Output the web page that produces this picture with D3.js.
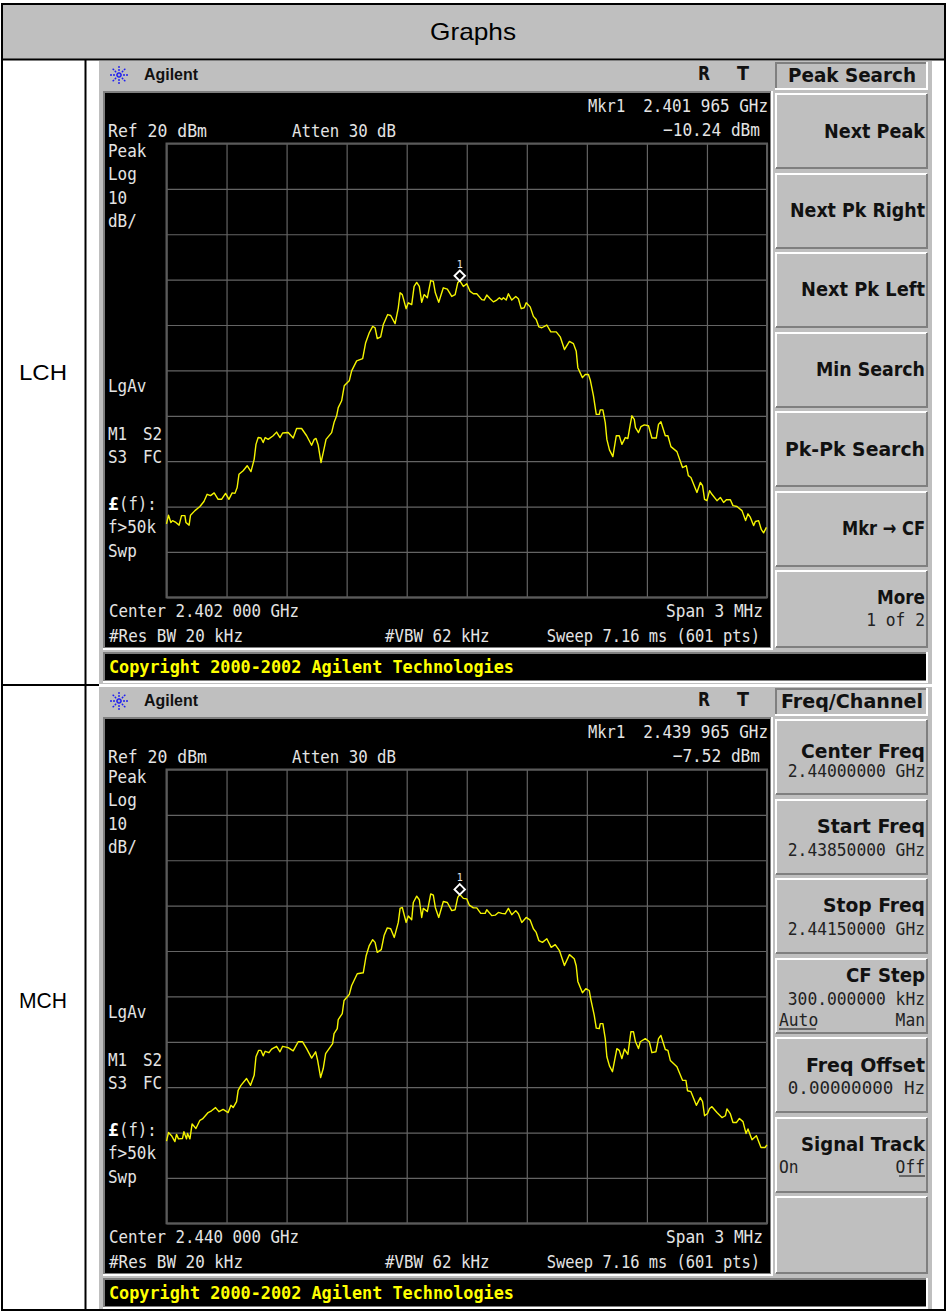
<!DOCTYPE html>
<html><head><meta charset="utf-8">
<script src="https://cdn.jsdelivr.net/npm/d3@7"></script>
<style>html,body{margin:0;padding:0;background:#fff}svg{display:block}</style></head>
<body><div id="c"></div>
<script>
const lchFreq=[-1500,-1490,-1478,-1470,-1453,-1437,-1425,-1408,-1403,-1387,-1380,-1358,-1333,-1313,-1297,-1280,-1262,-1242,-1225,-1205,-1188,-1172,-1158,-1147,-1138,-1117,-1097,-1078,-1062,-1053,-1042,-1028,-1017,-1007,-992,-967,-950,-933,-920,-892,-867,-850,-825,-800,-775,-762,-753,-742,-728,-717,-703,-675,-663,-650,-642,-625,-612,-587,-575,-550,-520,-505,-487,-470,-458,-447,-430,-417,-395,-380,-358,-342,-333,-322,-303,-292,-275,-263,-250,-237,-225,-213,-197,-180,-167,-157,-140,-117,-97,-75,-58,-45,-35,-17,0,17,33,50,75,87,100,117,133,150,163,175,183,197,208,225,245,258,272,287,297,317,333,347,360,375,400,420,447,467,488,513,533,547,555,578,592,608,617,633,647,662,667,680,692,700,713,730,747,762,775,792,805,817,825,837,843,858,870,887,908,925,947,958,970,992,1005,1020,1050,1078,1097,1107,1120,1150,1167,1178,1188,1200,1213,1225,1250,1267,1283,1297,1317,1330,1350,1375,1393,1405,1417,1433,1442,1458,1472,1483,1497];
const lchLevel=[-63.8,-61.9,-63.5,-63.1,-63.5,-64.1,-62,-62,-63.5,-64.1,-61.9,-60.9,-60,-58.9,-57.3,-57.6,-57,-58.4,-58.4,-57.1,-58.4,-57,-57.1,-55.8,-52.9,-52.1,-51,-52.3,-49.6,-46.3,-44.8,-44.9,-45.9,-44.8,-45.2,-44.4,-43.6,-44.8,-43.8,-43.7,-44.9,-42.8,-42.8,-44.4,-46.5,-45.2,-45,-46.5,-50.3,-48.1,-45.2,-43.7,-41.5,-40,-38.2,-36.7,-33.4,-32.3,-30.1,-27.9,-27.4,-23.9,-21.7,-20.3,-20.6,-23,-22.6,-19.9,-17.7,-17.9,-19.7,-16.2,-12.9,-13.3,-16.4,-15.1,-15.5,-11.5,-10.6,-11.5,-15,-13.3,-14,-10.2,-10.4,-12.9,-15,-11.8,-12.1,-13.7,-13.3,-10.7,-10.24,-11.5,-10.9,-12.6,-13.1,-13.1,-14.4,-14.5,-13.4,-14.2,-14.9,-14.5,-14,-14.4,-14,-14.5,-13.1,-14.5,-13.7,-14.2,-16.4,-16.2,-15.1,-16,-18.1,-18.8,-20.4,-20.6,-20,-21.5,-21.5,-22.6,-25.4,-23.6,-24.1,-25.8,-29.4,-31.6,-30.9,-30.9,-32.1,-35.6,-39.7,-39.7,-38.7,-38.7,-41.5,-45.2,-47.5,-49,-44.4,-44.4,-46.3,-44.8,-45,-41.9,-40,-40.8,-42.6,-43.7,-42.4,-42,-42.2,-44.9,-44.9,-41.9,-41.3,-44.4,-44.4,-46.8,-47.9,-51.4,-51,-53.2,-53.6,-56.9,-54.7,-55.4,-58.4,-58.7,-56.5,-57.3,-58.7,-58,-59.1,-58.5,-58.5,-59.8,-60,-60.9,-63.1,-61.6,-62.4,-64.2,-63.3,-63.1,-65.1,-65.8,-64.6];
const mchFreq=[-1500,-1490,-1475,-1458,-1450,-1440,-1420,-1413,-1400,-1395,-1383,-1372,-1353,-1333,-1320,-1292,-1275,-1255,-1238,-1217,-1192,-1178,-1167,-1150,-1142,-1128,-1100,-1080,-1062,-1053,-1040,-1028,-1017,-1007,-988,-975,-950,-933,-920,-892,-867,-842,-820,-800,-775,-755,-745,-730,-717,-705,-670,-663,-647,-642,-622,-613,-587,-575,-547,-517,-503,-487,-470,-458,-447,-427,-413,-397,-380,-362,-342,-333,-322,-303,-292,-275,-267,-250,-237,-225,-217,-197,-180,-167,-157,-140,-117,-97,-75,-58,-45,-35,-17,0,13,33,50,70,92,100,125,142,158,175,192,208,225,245,258,275,297,317,333,347,360,378,400,422,442,463,488,513,537,547,555,578,595,612,620,637,647,662,667,680,692,700,713,728,750,762,775,788,805,820,833,843,858,867,892,912,925,945,958,970,992,1005,1017,1050,1078,1095,1103,1120,1147,1167,1178,1188,1203,1213,1225,1250,1275,1292,1300,1317,1330,1347,1362,1380,1395,1405,1425,1447,1470,1490,1500];
const mchLevel=[-61.9,-60,-60.7,-62,-60.4,-61.4,-61.3,-59.8,-61.4,-60.2,-61.4,-58.1,-59.1,-57.3,-57,-55.6,-55.2,-54.5,-55.4,-54.9,-55.6,-54,-54.5,-53.2,-50.7,-49.6,-48.1,-49.6,-47.4,-43.3,-41.9,-41.9,-43.1,-42.1,-42.4,-41.6,-41,-42.2,-41,-41.3,-42,-40,-40,-41.5,-43.6,-42.2,-44.1,-47.9,-45.9,-42.6,-40.4,-38.2,-37.1,-35.1,-33.8,-30.9,-29.6,-27.6,-25,-24.8,-21.1,-18.8,-17.5,-18.1,-20.3,-19.7,-16.6,-14.9,-15.1,-17,-13.7,-10.6,-10.4,-13.7,-12.3,-13.1,-9.3,-7.9,-8.7,-12.6,-10.6,-11.3,-7.4,-7.7,-10.4,-12.6,-9.1,-9.3,-11.1,-10.9,-8.2,-7.52,-8.4,-8.5,-9.9,-10.5,-10.5,-11.7,-11.7,-10.9,-12.2,-12.1,-11.5,-11.7,-11.8,-10.6,-12,-11.1,-11.8,-13.7,-12.6,-13.2,-15.1,-15.9,-17.7,-18.1,-17.3,-19.2,-18.6,-19.9,-23.2,-20.8,-21.7,-23.3,-26.7,-29.2,-28.3,-28.7,-30.7,-34.2,-37,-37.1,-36,-36,-39.3,-43.3,-45.3,-46.6,-41.5,-41.9,-43.7,-41.6,-42.8,-37.8,-37.8,-40,-41.5,-40,-39.3,-40,-42.4,-42.2,-39.3,-38.6,-41.7,-41.9,-44.1,-45.5,-48.5,-48.5,-50.8,-51,-54,-52.3,-53.2,-56.3,-55.8,-54.7,-54.3,-55.6,-56.7,-56.3,-54.8,-55.9,-57.8,-57.8,-56.9,-57.6,-60.2,-59.2,-61.6,-60.7,-63.3,-63.3,-62.7];
const freqTicks=[-1500,-1200,-900,-600,-300,0,300,600,900,1200,1500];
const levelTicks=[20,10,0,-10,-20,-30,-40,-50,-60,-70,-80];
const rowNames=["LCH","MCH"];
const markerFreq=[-35,-35];
const markerLevel=[-10.24,-7.52];
const markerFreqText=["2.401 965 GHz","2.439 965 GHz"];
const markerLevelText=["-10.24 dBm","-7.52 dBm"];
const centerText=["Center 2.402 000 GHz","Center 2.440 000 GHz"];
const menuTitles=["Peak Search","Freq/Channel"];
const menuLcH=["Next Peak","Next Pk Right","Next Pk Left","Min Search","Pk-Pk Search","Mkr \u2192 CF","More"];
const menuMcH=["Center Freq","Start Freq","Stop Freq","CF Step","Freq Offset","Signal Track",""];

const W=946,H=1311;
const svg=d3.select("#c").append("svg").attr("width",W).attr("height",H).attr("viewBox",[0,0,W,H]);
const SANS="'Liberation Sans',Arial,sans-serif", MONO="'DejaVu Sans Mono',monospace", BOLD="'DejaVu Sans',sans-serif";
const PANEL="#bfbfbf";
const titleW=[870,0];

svg.append("rect").attr("x",2).attr("y",4).attr("width",943).attr("height",55).attr("fill",PANEL);
svg.append("text").attr("x",473).attr("y",40).attr("text-anchor","middle").attr("font-family",SANS).attr("font-size",24).attr("textLength",86).attr("lengthAdjust","spacingAndGlyphs").text("Graphs");

function thin(g,x,y,t,o={}){
  return g.append("text").attr("x",x).attr("y",y).attr("font-family",MONO).attr("font-size",o.size||18)
   .attr("fill",o.fill||"#e4e4e4").attr("text-anchor",o.anchor||"start")
   .attr("textLength",t.length*(o.cw||9.6)).attr("lengthAdjust","spacingAndGlyphs").text(t);
}
function key(g,y0,y1,title,titleY,tw,subs){
  const x0=775,x1=928;
  g.append("rect").attr("x",x0).attr("y",y0).attr("width",x1-x0).attr("height",y1-y0).attr("fill",PANEL);
  g.append("path").attr("d",`M${x0+1},${y1-1}V${y0+1}H${x1-1}`).attr("fill","none").attr("stroke","#fff").attr("stroke-width",2);
  g.append("path").attr("d",`M${x0+1},${y1-1}H${x1-1}V${y0+1}`).attr("fill","none").attr("stroke","#7f7f7f").attr("stroke-width",2);
  if(title) g.append("text").attr("x",925).attr("y",titleY).attr("text-anchor","end").attr("font-family",BOLD).attr("font-weight",700).attr("font-size",20).attr("textLength",tw).attr("lengthAdjust","spacingAndGlyphs").attr("fill","#111").text(title);
  (subs||[]).forEach(s=>thin(g,s.x==null?925:s.x,s.y,s.t,{fill:"#222",anchor:s.a||"end",cw:9.8}));
}

function panel(i,dy,freq,level,keys){
  const g=svg.append("g").attr("transform",`translate(0,${dy})`);
  g.append("rect").attr("x",99).attr("y",61).attr("width",833).attr("height",623).attr("fill",PANEL);
  const c=[119,75];
  d3.range(8).forEach(k=>{const a=k*Math.PI/4;
    g.append("line").attr("x1",c[0]+1*Math.cos(a)).attr("y1",c[1]+1*Math.sin(a)).attr("x2",c[0]+10*Math.cos(a)).attr("y2",c[1]+10*Math.sin(a))
     .attr("stroke","#2020f0").attr("stroke-width",1.4).attr("stroke-dasharray","2,1");});
  g.append("text").attr("x",144).attr("y",80).attr("font-family",SANS).attr("font-weight",700).attr("font-size",17).attr("textLength",54).attr("lengthAdjust","spacingAndGlyphs").attr("fill","#111").text("Agilent");
  [["R",704],["T",743]].forEach(d=>g.append("text").attr("x",d[1]).attr("y",80).attr("text-anchor","middle").attr("font-family",BOLD).attr("font-weight",700).attr("font-size",19).attr("textLength",12).attr("lengthAdjust","spacingAndGlyphs").attr("fill","#111").text(d[0]));
  g.append("rect").attr("x",103).attr("y",91).attr("width",670).attr("height",559).attr("fill","#fff");
  g.append("rect").attr("x",103).attr("y",91).attr("width",668).attr("height",557).attr("fill","#7f7f7f");
  g.append("rect").attr("x",105).attr("y",93).attr("width",665).attr("height",554).attr("fill","#000");
  g.append("rect").attr("x",103).attr("y",652).attr("width",825).attr("height",31).attr("fill","#fff");
  g.append("rect").attr("x",103).attr("y",652).attr("width",823).attr("height",29).attr("fill","#7f7f7f");
  g.append("rect").attr("x",105).attr("y",654).attr("width",821).attr("height",26).attr("fill","#000");
  g.append("text").attr("x",109).attr("y",673).attr("font-family",MONO).attr("font-weight",700).attr("font-size",18).attr("textLength",405).attr("lengthAdjust","spacingAndGlyphs").attr("fill","#ffff00").text("Copyright 2000-2002 Agilent Technologies");
  const x=d3.scaleLinear().domain([-1500,1500]).range([166.5,767]);
  const y=d3.scaleLinear().domain([-80,20]).range([597.3,143.5]);
  const grid=g.append("g").attr("class","grid");
  grid.append("g").attr("transform","translate(0,597.3)").call(d3.axisBottom(x).tickValues(freqTicks).tickSize(-(597.3-143.5)).tickFormat(""));
  grid.append("g").attr("transform","translate(166.5,0)").call(d3.axisLeft(y).tickValues(levelTicks).tickSize(-(767-166.5)).tickFormat(""));
  grid.selectAll(".domain").remove();
  grid.selectAll("line").attr("stroke","#646464").attr("stroke-width",1.2);
  g.append("rect").attr("x",x(-1500)).attr("y",y(20)).attr("width",x(1500)-x(-1500)).attr("height",y(-80)-y(20)).attr("fill","none").attr("stroke","#5a5a5a").attr("stroke-width",2);
  const line=d3.line().x((d,k)=>x(freq[k])).y(d=>y(d));
  g.append("path").datum(level).attr("d",line).attr("fill","none").attr("stroke","#f5f500").attr("stroke-width",1.4).attr("stroke-linejoin","round");
  const mx=x(markerFreq[i]),my=y(markerLevel[i])-5;
  g.append("path").attr("d",d3.symbol(d3.symbolDiamond2,70)).attr("transform",`translate(${mx},${my})`).attr("fill","none").attr("stroke","#fff").attr("stroke-width",1.9);
  g.append("text").attr("x",mx).attr("y",my-8).attr("text-anchor","middle").attr("font-family",MONO).attr("font-size",10).attr("fill","#e8e8e8").text("1");
  thin(g,588,112,"Mkr1",{cw:9.3});
  thin(g,768,112,markerFreqText[i],{anchor:"end"});
  thin(g,760,136,markerLevelText[i].replace("-","\u2212"),{anchor:"end",cw:9.7});
  thin(g,108,137,"Ref 20 dBm",{cw:9.9});
  thin(g,292,137,"Atten 30 dB",{cw:9.45});
  [["Peak",157],["Log",180],["10",204],["dB/",227],["LgAv",392],["M1",440],["S3",463],["f>50k",533],["Swp",557]].forEach(d=>thin(g,108,d[1],d[0]));
  thin(g,143,440,"S2");thin(g,143,463,"FC");
  g.append("text").attr("x",108).attr("y",510).attr("font-family",MONO).attr("font-weight",700).attr("font-size",18).attr("fill","#fff").text("\u00a3");
  thin(g,119,510,"(f):",{cw:9.4});
  thin(g,109,617,centerText[i],{cw:9.5});
  thin(g,763,617,"Span 3 MHz",{anchor:"end",cw:9.7});
  thin(g,109,642,"#Res BW 20 kHz",{cw:9.57});
  thin(g,385,642,"#VBW 62 kHz",{cw:9.5});
  thin(g,760,642,"Sweep 7.16 ms (601 pts)",{anchor:"end",cw:9.27});
  g.append("rect").attr("x",775).attr("y",62).attr("width",153).attr("height",28).attr("fill","#fff");
  g.append("rect").attr("x",775).attr("y",62).attr("width",151).attr("height",26).attr("fill","#7f7f7f");
  g.append("rect").attr("x",777).attr("y",64).attr("width",149).attr("height",24).attr("fill",PANEL);
  g.append("text").attr("x",852).attr("y",82).attr("text-anchor","middle").attr("font-family",BOLD).attr("font-weight",700).attr("font-size",19).attr("textLength",[128,142][i]).attr("lengthAdjust","spacingAndGlyphs").attr("fill","#111").text(menuTitles[i]);
  keys.forEach(k=>key(g,k.y0,k.y1,k.t,k.ty,k.tw,k.subs));
}
const yy=[[93,169],[173,249],[252,328],[332,408],[411,487],[491,567],[570,648]];
const tyL=[138,217,296,376,456,535,604];
const twL=[101,135,124,109,140,83,48];
panel(0,0,lchFreq,lchLevel,menuLcH.map((t,k)=>({y0:yy[k][0],y1:yy[k][1],t,ty:tyL[k],tw:twL[k],subs:k==6?[{t:"1 of 2",y:626}]:[]})));
const tyM=[132,207,286,356,446,525,0];
const twM=[124,108,102,79,119,124,1];
const subsM=[[{t:"2.44000000 GHz",y:151}],[{t:"2.43850000 GHz",y:230}],[{t:"2.44150000 GHz",y:309}],
 [{t:"300.000000 kHz",y:379},{t:"Auto",x:779,a:"start",y:400},{t:"Man",y:400}],
 [{t:"0.00000000  Hz",y:468}],[{t:"On",x:779,a:"start",y:547},{t:"Off",y:547}],[]];
panel(1,626,mchFreq,mchLevel,menuMcH.map((t,k)=>({y0:yy[k][0],y1:yy[k][1],t,ty:tyM[k],tw:twM[k],subs:subsM[k]})));
[[779,816,1029],[899,925,1176]].forEach(d=>svg.append("line").attr("x1",d[0]).attr("x2",d[1]).attr("y1",d[2]).attr("y2",d[2]).attr("stroke","#111").attr("stroke-width",1));

[[0,380],[1,1008]].forEach(d=>svg.append("text").attr("x",43).attr("y",d[1]).attr("text-anchor","middle").attr("font-family",SANS).attr("font-size",22).attr("textLength",48).attr("lengthAdjust","spacingAndGlyphs").text(rowNames[d[0]]));
const rules=svg.append("g").attr("stroke","#000").attr("stroke-width",2);
[[1,4,945,4],[1,59.5,945,59.5],[1,685,99,685],[1,1310,945,1310],[2,3,2,1311],[85.5,59,85.5,1311],[945,3,945,1311]].forEach(r=>rules.append("line").attr("x1",r[0]).attr("y1",r[1]).attr("x2",r[2]).attr("y2",r[3]));
</script></body></html>
